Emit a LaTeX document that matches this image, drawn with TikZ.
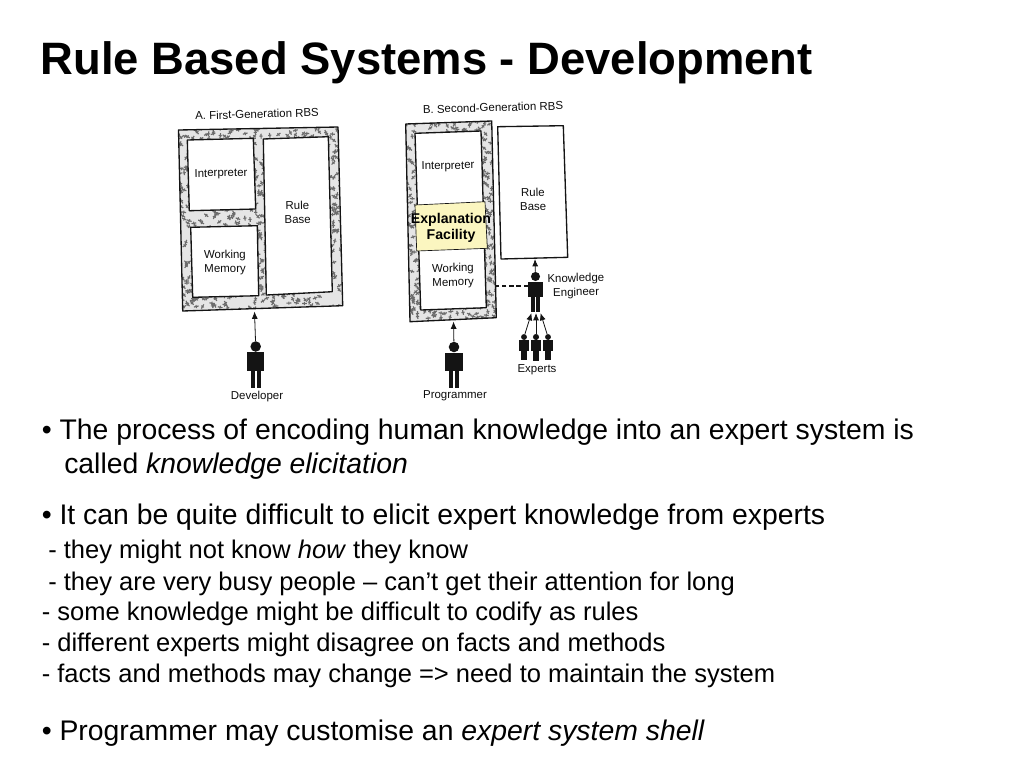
\documentclass[tikz,border=0pt]{standalone}
\usepackage{fontspec}
\setmainfont{Liberation Sans}
\usetikzlibrary{arrows.meta}
\definecolor{stip}{gray}{0.42}
\definecolor{stipbase}{gray}{0.9}
\definecolor{expl}{HTML}{FBF6C0}
\definecolor{inkc}{gray}{0.08}
\newcommand{\stipple}[9]{%
  \fill[stipbase] (#1,#2) -- (#3,#4) -- (#5,#6) -- (#7,#8) -- cycle;
  \begin{scope}
    \clip (#1,#2) -- (#3,#4) -- (#5,#6) -- (#7,#8) -- cycle;
    \foreach \i in {1,...,#9}{
      \pgfmathsetmacro{\sx}{#1+rnd*(#5-#1+6)-3}
      \pgfmathsetmacro{\sy}{min(#2,#4)+rnd*(max(#6,#8)-min(#2,#4))}
      \pgfmathsetmacro{\sa}{rnd*180}
      \fill[stip,rotate around={\sa:(\sx,\sy)}] (\sx-2.4,\sy-.6) rectangle (\sx+2.4,\sy+.6);
      \fill[stip,rotate around={\sa+90:(\sx,\sy)}] (\sx-1.6,\sy-.5) rectangle (\sx+1.6,\sy+.5);
    }
  \end{scope}
  \draw[scanline] (#1,#2) -- (#3,#4) -- (#5,#6) -- (#7,#8) -- cycle;}
\newcommand{\person}[4]{% name, x, y of head centre, scale
  \node[head,minimum size=#4*7.9pt] (#1h) at (#2,#3) {};
  \node[torso,minimum width=#4*13.1pt,minimum height=#4*13.9pt,anchor=north] (#1) at (#2,#3+#4*5.5) {};
  \fill[inkc] (#2-#4*4.8,#3+#4*23) rectangle (#2-#4*0.8,#3+#4*41);
  \fill[inkc] (#2+#4*0.8,#3+#4*23) rectangle (#2+#4*4.8,#3+#4*41);}
\tikzset{
  scanline/.style={draw=inkc,line width=1pt,line join=round},
  innerbox/.style={draw=inkc,line width=1pt,fill=white,line join=round},
  head/.style={circle,fill=inkc,inner sep=0pt},
  torso/.style={rectangle,fill=inkc,inner sep=0pt},
  scan/.style={font=\fontsize{8.6}{10.5}\selectfont,text=black!95,align=center,inner sep=0pt},
  flow/.style={draw=inkc,line width=.6pt,-{Latex[length=5.5pt,width=4.5pt]}},
  body/.style={anchor=base west,inner sep=0pt,font=\fontsize{21.27}{24}\selectfont},
  sub/.style={anchor=base west,inner sep=0pt,font=\fontsize{19.14}{21}\selectfont},
}
\begin{document}
\begin{tikzpicture}[x=0.75pt,y=-0.75pt]
\useasboundingbox (0,0) rectangle (1024,768);
\pgfmathsetseed{4711}
\node[anchor=base west,inner sep=0pt,font=\bfseries\fontsize{34.05}{38}\selectfont] (title) at (40.5,74) {Rule Based Systems - Development};

% A
\node[scan,rotate=1.5] (atitle) at (257,114) {A. First-Generation RBS};
\stipple{178.5}{130}{338}{127}{342.7}{305.7}{182.7}{311}{850}
\draw[innerbox] (187.3,140) -- (253.3,138.3) -- (255.7,209) -- (189.3,210.7) -- cycle;
\draw[innerbox] (190.7,227.3) -- (257.3,225.7) -- (258.7,295.7) -- (192.7,297.3) -- cycle;
\draw[innerbox] (263.3,139) -- (328.3,136.7) -- (332.3,291.7) -- (266.3,295) -- cycle;
\node[scan,rotate=1] (ainterp) at (221,174) {Interpreter};
\node[scan,rotate=1] (awm) at (225,262.5) {Working\\Memory};
\node[scan,rotate=1] (arule) at (297.5,212.5) {Rule\\Base};
\coordinate (aport) at (254.5,311.5);
\person{dev}{255.7}{346.5}{1}
\draw[flow] (devh) -- (aport);
\node[scan] (devl) at (257,396.5) {Developer};

% B
\node[scan,rotate=1.5] (btitle) at (493,107.5) {B. Second-Generation RBS};
\stipple{405.7}{124}{491.7}{121}{496.3}{317.7}{410}{321.7}{620}
\draw[innerbox] (415,133.3) -- (481,131) -- (486.3,307.7) -- (420.7,310) -- cycle;
\draw[innerbox,fill=expl,line width=.5pt] (415,205) -- (485,201.7) -- (487.3,248.3) -- (416.7,251) -- cycle;
\draw[innerbox] (497.7,126.7) -- (563.3,125.7) -- (567.7,257.3) -- (501,259) -- cycle;
\node[scan,rotate=1] (binterp) at (448,166.5) {Interpreter};
\node[anchor=center,inner sep=0pt,align=center,font=\bfseries\fontsize{10.6}{12}\selectfont] (bexpl) at (451,227.5) {Explanation\\Facility};
\node[scan,rotate=1] (bwm) at (453,276) {Working\\Memory};
\node[scan,rotate=1] (brule) at (533,199.5) {Rule\\Base};
\coordinate (bport) at (453.5,321.5);
\coordinate (bedge) at (496,286);
\coordinate (kedash) at (528.3,286);
\coordinate (rbot) at (535,259);
\coordinate (kef1) at (531.5,313);
\coordinate (kef2) at (536,313);
\coordinate (kef3) at (540.5,313);
\person{prog}{454}{347}{1}
\draw[flow] (progh) -- (bport);
\node[scan] (progl) at (455,396) {Programmer};
\person{ke}{535.5}{276.5}{.86}
\draw[flow] (keh) -- (rbot);
\draw[inkc,line width=1pt,dash pattern=on 3.5pt off 2pt] (kedash) -- (bedge);
\node[scan,rotate=1] (kel) at (576,286) {Knowledge\\Engineer};
\person{e1}{524}{337}{.56}
\person{e2}{536}{337}{.58}
\person{e3}{548}{337}{.56}
\draw[flow] (e1h) -- (kef1);
\draw[flow] (e2h) -- (kef2);
\draw[flow] (e3h) -- (kef3);
\node[scan] (expl) at (537,369.5) {Experts};

% text
\node[body] (l1) at (41.5,439) {• The process of encoding human knowledge into an expert system is};
\node[body] (l2) at (64,473) {called \textit{knowledge elicitation}};
\node[body] (l3) at (41.5,524) {• It can be quite difficult to elicit expert knowledge from experts};
\node[sub] (l4) at (48,558) {- they might not know \textit{how} they know};
\node[sub] (l5) at (48,590) {- they are very busy people – can’t get their attention for long};
\node[sub] (l6) at (41.5,620) {- some knowledge might be difficult to codify as rules};
\node[sub] (l7) at (41.5,651) {- different experts might disagree on facts and methods};
\node[sub] (l8) at (41.5,682) {- facts and methods may change => need to maintain the system};
\node[body] (l9) at (41.5,740) {• Programmer may customise an \textit{expert system shell}};
\end{tikzpicture}
\end{document}
